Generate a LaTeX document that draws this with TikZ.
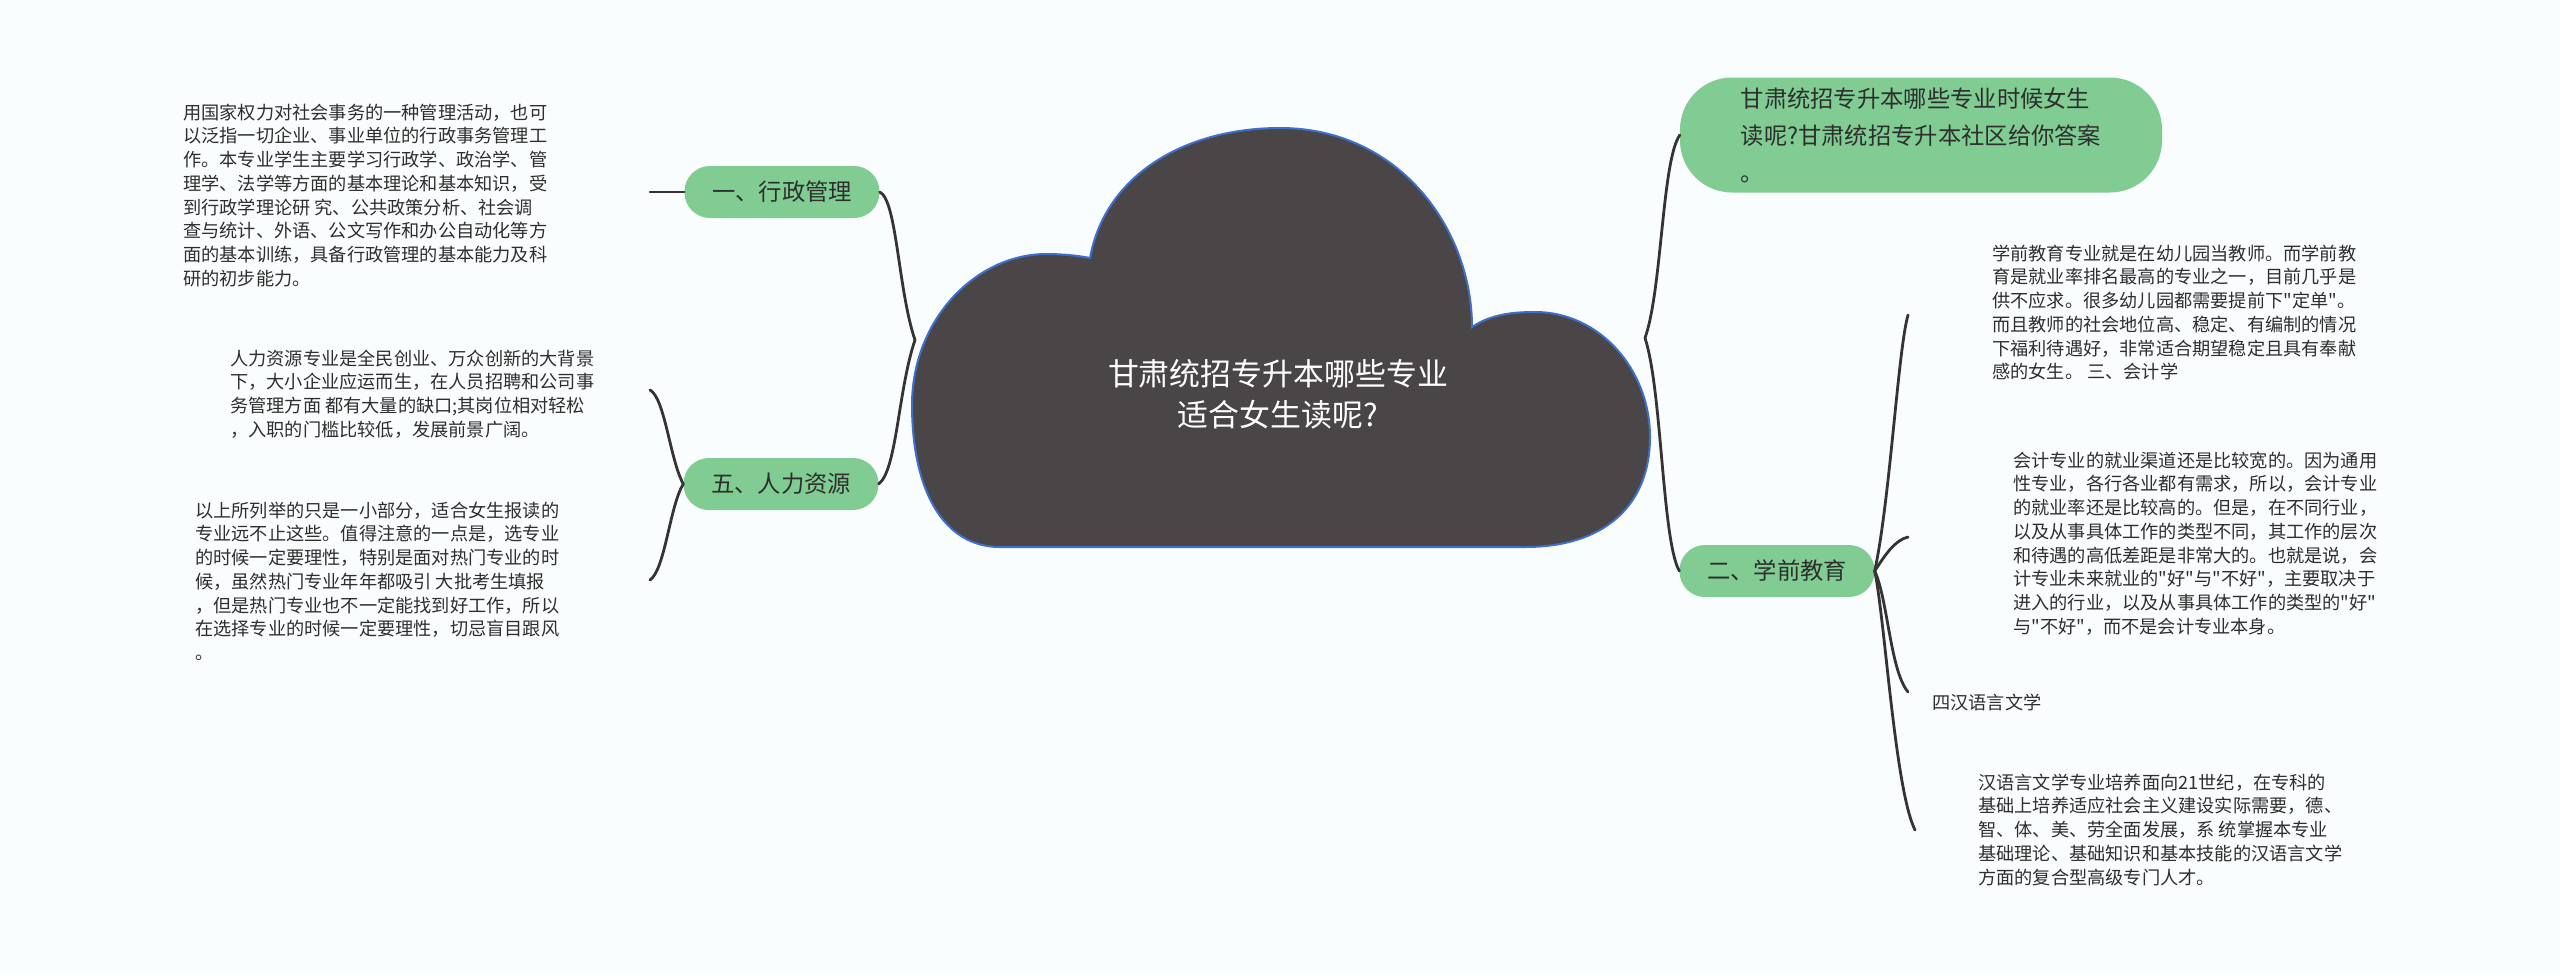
\documentclass[tikz,border=0pt]{standalone}
\usepackage{fontspec}
\setmainfont{Noto Sans CJK SC}[Ligatures=TeXOff]
\definecolor{bgcol}{HTML}{FAFDFE}
\definecolor{cloudfill}{HTML}{4A4647}
\definecolor{cloudedge}{HTML}{3D6FCB}
\definecolor{pillgreen}{HTML}{80CC92}
\definecolor{textdark}{HTML}{2E2E2E}
\definecolor{linecol}{HTML}{353333}
\begin{document}
\begin{tikzpicture}[x=1pt,y=-1pt,
  pill/.style={fill=pillgreen, draw=none, rounded corners=25.5, minimum width=195, minimum height=52, inner sep=0, text=textdark, font=\fontsize{23.3}{28}\selectfont},
  toppill/.style={fill=pillgreen, draw=none, rounded corners=52, minimum width=482, minimum height=115, inner sep=0, align=left, text=textdark, font=\fontsize{23.3}{37}\selectfont},
  conn/.style={draw=linecol, line width=2.8, line cap=round},
  para/.style={anchor=north west, inner sep=0, align=left, text=textdark, font=\fontsize{18.2}{23.7}\selectfont},
  rootlabel/.style={align=center, text=white, inner sep=0, font=\fontsize{30.9}{41}\selectfont}]
\useasboundingbox (0,0) rectangle (2560,975);
\fill[bgcol] (0,0) rectangle (2560,975);

% central cloud
\draw[fill=cloudfill, draw=cloudedge, line width=2]
  (1000,547) .. controls (942,547) and (912,488) .. (912,405)
  .. controls (912,320) and (975,255) .. (1045,254)
  .. controls (1065,254) and (1080,256) .. (1090,258)
  .. controls (1105,175) and (1185,128) .. (1280,128)
  .. controls (1400,128) and (1472,230) .. (1472,327)
  .. controls (1490,315) and (1510,312) .. (1535,312)
  .. controls (1600,312) and (1650,370) .. (1650,437)
  .. controls (1650,505) and (1605,547) .. (1525,547)
  -- cycle;
\node[rootlabel] (root) at (1278,394) {甘肃统招专升本哪些专业\\适合女生读呢?};
\coordinate (jl) at (915,340);
\coordinate (jr) at (1645,338);

% main branches
\node[pill] (xz) at (782,192) {一、行政管理};
\node[pill] (rl) at (781,484) {五、人力资源};
\node[pill] (xq) at (1777,571) {二、学前教育};
\node[toppill] (top) at (1921,135) {甘肃统招专升本哪些专业时候女生\\读呢?甘肃统招专升本社区给你答案\\。};

\draw[conn] (xz.east) .. controls (897,200) and (898,290) .. (jl);
\draw[conn] (jl) .. controls (898,390) and (897,470) .. (rl.east);
\draw[conn] (jr) .. controls (1662,290) and (1662,160) .. (top.west);
\draw[conn] (jr) .. controls (1662,390) and (1662,540) .. (xq.west);

% left leaves
\coordinate (xzend) at (650,192);
\draw[conn] (xz.west) -- (xzend);
\node[para] (xzT) at (183,103.6) {用国家权力对社会事务的一种管理活动，也可\\以泛指一切企业、事业单位的行政事务管理工\\作。本专业学生主要学习行政学、政治学、管\\理学、法学等方面的基本理论和基本知识，受\\到行政学理论研 究、公共政策分析、社会调\\查与统计、外语、公文写作和办公自动化等方\\面的基本训练，具备行政管理的基本能力及科\\研的初步能力。};

\coordinate (rlA) at (650,390);
\coordinate (rlB) at (650,580);
\draw[conn] (rlA) .. controls (665,398) and (670,460) .. (rl.west);
\draw[conn] (rl.west) .. controls (670,505) and (665,570) .. (rlB);
\node[para] (rlT1) at (230,349.6) {人力资源专业是全民创业、万众创新的大背景\\下，大小企业应运而生，在人员招聘和公司事\\务管理方面 都有大量的缺口;其岗位相对轻松\\，入职的门槛比较低，发展前景广阔。};
\node[para] (rlT2) at (195,501.6) {以上所列举的只是一小部分，适合女生报读的\\专业远不止这些。值得注意的一点是，选专业\\的时候一定要理性，特别是面对热门专业的时\\候，虽然热门专业年年都吸引 大批考生填报\\，但是热门专业也不一定能找到好工作，所以\\在选择专业的时候一定要理性，切忌盲目跟风\\。};

% right leaves
\coordinate (xqA) at (1908,315);
\coordinate (xqB) at (1908,537);
\coordinate (xqC) at (1908,692);
\coordinate (xqD) at (1915,830);
\draw[conn] (xq.east) .. controls (1890,500) and (1898,350) .. (xqA);
\draw[conn] (xq.east) .. controls (1885,555) and (1895,540) .. (xqB);
\draw[conn] (xq.east) .. controls (1888,600) and (1890,670) .. (xqC);
\draw[conn] (xq.east) .. controls (1885,620) and (1895,790) .. (xqD);

\node[para] (xqT) at (1992,244.6) {学前教育专业就是在幼儿园当教师。而学前教\\育是就业率排名最高的专业之一，目前几乎是\\供不应求。很多幼儿园都需要提前下"定单"。\\而且教师的社会地位高、稳定、有编制的情况\\下福利待遇好，非常适合期望稳定且具有奉献\\感的女生。 三、会计学};
\node[para] (kjT) at (2013,451.6) {会计专业的就业渠道还是比较宽的。因为通用\\性专业，各行各业都有需求，所以，会计专业\\的就业率还是比较高的。但是，在不同行业，\\以及从事具体工作的类型不同，其工作的层次\\和待遇的高低差距是非常大的。也就是说，会\\计专业未来就业的"好"与"不好"，主要取决于\\进入的行业，以及从事具体工作的类型的"好"\\与"不好"，而不是会计专业本身。};
\node[para] (hyL) at (1932,693.6) {四汉语言文学};
\node[para] (hyT) at (1978,773.6) {汉语言文学专业培养面向21世纪，在专科的\\基础上培养适应社会主义建设实际需要，德、\\智、体、美、劳全面发展，系 统掌握本专业\\基础理论、基础知识和基本技能的汉语言文学\\方面的复合型高级专门人才。};
\end{tikzpicture}
\end{document}
